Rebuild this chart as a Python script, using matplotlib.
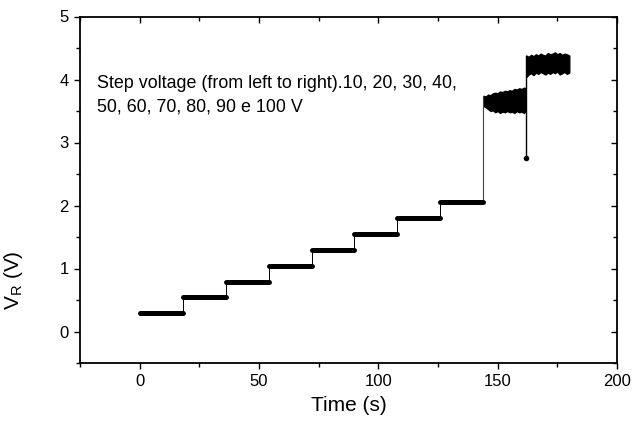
#!/usr/bin/env python3
"""Step-voltage response V_R versus time."""

import matplotlib

matplotlib.use("Agg")
import matplotlib.pyplot as plt
from matplotlib.ticker import MultipleLocator

plt.rcParams["font.family"] = ["Liberation Sans", "DejaVu Sans"]

# flat steps (10 .. 80 V): start time, end time, level
step_start = [0, 18.3, 36.3, 54.2, 72.2, 90.0, 107.8, 125.8]
step_end = [18.3, 36.3, 54.2, 72.2, 90.0, 107.8, 125.8, 144.0]
step_level = [0.29, 0.54, 0.79, 1.04, 1.29, 1.54, 1.80, 2.06]

# noisy steps (90 V and 100 V): ragged envelope
n90_t = [144.0, 145, 146, 147, 148, 149, 150, 151, 152, 153, 154, 155, 156, 157, 158, 159, 160, 161, 161.7]
n90_hi = [3.74, 3.73, 3.76, 3.75, 3.78, 3.79, 3.78, 3.81, 3.80, 3.82, 3.81, 3.83, 3.82, 3.85, 3.84, 3.86, 3.85, 3.87, 3.86]
n90_lo = [3.58, 3.56, 3.53, 3.50, 3.51, 3.48, 3.50, 3.47, 3.49, 3.48, 3.50, 3.48, 3.49, 3.47, 3.50, 3.48, 3.49, 3.47, 3.50]
n100_t = [162.0, 163, 164, 165, 166, 167, 168, 169, 170, 171, 172, 173, 174, 175, 176, 177, 178, 179, 180.0]
n100_hi = [4.38, 4.36, 4.39, 4.37, 4.40, 4.38, 4.41, 4.39, 4.38, 4.42, 4.40, 4.41, 4.43, 4.40, 4.42, 4.39, 4.41, 4.40, 4.38]
n100_lo = [4.04, 4.08, 4.10, 4.07, 4.11, 4.09, 4.12, 4.10, 4.08, 4.11, 4.09, 4.12, 4.10, 4.13, 4.08, 4.10, 4.12, 4.09, 4.11]

# drop spike at the start of the last step
spike_t = 161.7
spike_v = 2.75

caption_1 = "Step voltage (from left to right).10, 20, 30, 40,"
caption_2 = "50, 60, 70, 80, 90 e 100 V"


def main() -> int:
    fig = plt.figure(figsize=(6.36, 4.21), dpi=100)
    ax = fig.add_axes([80 / 636, 1 - 363 / 421, (617 - 80) / 636, (363 - 16.5) / 421])

    # thin connectors between levels
    for i in range(1, len(step_level)):
        ax.plot([step_start[i]] * 2, [step_level[i - 1], step_level[i]], color="black", lw=0.7)
    ax.plot([n90_t[0]] * 2, [step_level[-1], n90_hi[0]], color="#444444", lw=0.8)
    ax.plot([spike_t] * 2, [spike_v, n100_hi[0]], color="black", lw=1.0)
    ax.plot([spike_t], [spike_v], "o", color="black", ms=3)

    ax.hlines(step_level, step_start, step_end, color="black", lw=3.6, capstyle="round")
    ax.fill_between(n90_t, n90_lo, n90_hi, facecolor="black", edgecolor="black", lw=1.0)
    ax.fill_between(n100_t, n100_lo, n100_hi, facecolor="black", edgecolor="black", lw=1.0)

    ax.text(-17.7, 3.86, caption_1, fontsize=12.9, va="baseline", ha="left")
    ax.text(-17.7, 3.50, caption_2, fontsize=12.9, va="baseline", ha="left")

    ax.set_xlim(-25, 200)
    ax.set_ylim(-0.5, 5)
    ax.xaxis.set_major_locator(MultipleLocator(50))
    ax.xaxis.set_minor_locator(MultipleLocator(25))
    ax.yaxis.set_major_locator(MultipleLocator(1))
    ax.yaxis.set_minor_locator(MultipleLocator(0.5))
    ax.tick_params(which="both", direction="out", width=1, labelsize=12, pad=3.5,
                   top=True, right=True)
    ax.tick_params(which="major", length=4.5)
    ax.tick_params(which="minor", length=3)
    # top and right ticks point inwards
    for t in ax.xaxis.get_ticklines(minor=False)[1::2] + ax.xaxis.get_ticklines(minor=True)[1::2]:
        t.set_marker(3)
    for t in ax.yaxis.get_ticklines(minor=False)[1::2] + ax.yaxis.get_ticklines(minor=True)[1::2]:
        t.set_marker(0)
    for spine in ax.spines.values():
        spine.set_linewidth(1.3)

    ax.set_xlabel("Time (s)", fontsize=15, labelpad=5)
    ax.set_ylabel(r"V$_\mathregular{R}$ (V)", fontsize=15)
    ax.yaxis.set_label_coords(-0.102, 0.24)

    fig.savefig("out.png", dpi=100)
    plt.close(fig)
    return 0


if __name__ == "__main__":
    raise SystemExit(main())
